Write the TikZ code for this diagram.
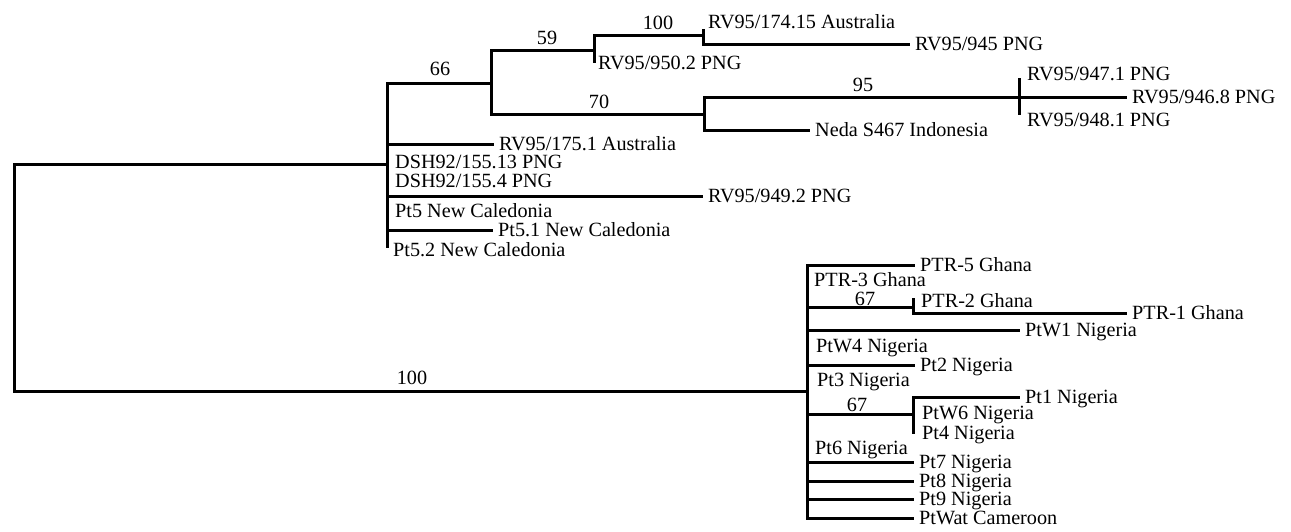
\documentclass[tikz,border=0pt]{standalone}
\usepackage{fontspec}
\setmainfont{Liberation Serif}
\usetikzlibrary{calc}
\tikzset{tree branch/.style={line width=3pt},
  taxon/.style={anchor=west, inner xsep=5pt, inner ysep=0pt,
    text height=14.5pt, text depth=2.5pt,
    font=\fontsize{20.2}{24}\selectfont},
  support/.style={anchor=center, inner sep=0pt,
    text height=14pt, text depth=0pt,
    font=\fontsize{20.2}{24}\selectfont}
}

\begin{document}
\begin{tikzpicture}[x=1pt,y=-1pt]
    \useasboundingbox (0,0) rectangle (1291,531);
    \coordinate (root) at (14,277);
    \coordinate (mel) at (387,164);
    \coordinate (melend) at (387,248);
    \coordinate (n66) at (491,83);
    \coordinate (n59) at (594,50);
    \coordinate (n59end) at (594,63);
    \coordinate (n100) at (703,35);
    \coordinate (n100top) at (703,29);
    \coordinate (n70) at (704,114);
    \coordinate (n95) at (1019,97.5);
    \coordinate (n95top) at (1019,78);
    \coordinate (n95end) at (1019,115);
    \coordinate (afr) at (807,391);
    \coordinate (ghana67) at (913,307);
    \coordinate (ghana67top) at (913,298);
    \coordinate (nig67) at (913,414);
    \coordinate (nig67end) at (913,434);

    \node[taxon] (rv17415) at (703,22) {RV95/174.15 Australia};
    \node[taxon] (rv945) at (910,44) {RV95/945 PNG};
    \node[taxon] (rv9502) at (593,63) {RV95/950.2 PNG};
    \node[taxon] (rv9471) at (1022,74) {RV95/947.1 PNG};
    \node[taxon] (rv9468) at (1127,97.5) {RV95/946.8 PNG};
    \node[taxon] (rv9481) at (1022,120) {RV95/948.1 PNG};
    \node[taxon] (neda) at (810,130) {Neda S467 Indonesia};
    \node[taxon] (rv1751) at (494,144) {RV95/175.1 Australia};
    \node[taxon] (dsh13) at (390,162) {DSH92/155.13 PNG};
    \node[taxon] (dsh4) at (390,181) {DSH92/155.4 PNG};
    \node[taxon] (rv9492) at (703,196) {RV95/949.2 PNG};
    \node[taxon] (pt5) at (390,211) {Pt5 New Caledonia};
    \node[taxon] (pt51) at (493,230) {Pt5.1 New Caledonia};
    \node[taxon] (pt52) at (388,250) {Pt5.2 New Caledonia};

    \node[taxon] (ptr5) at (915,265) {PTR-5 Ghana};
    \node[taxon] (ptr3) at (809,280) {PTR-3 Ghana};
    \node[taxon] (ptr2) at (916,301) {PTR-2 Ghana};
    \node[taxon] (ptr1) at (1127,313) {PTR-1 Ghana};
    \node[taxon] (ptw1) at (1020,330) {PtW1 Nigeria};
    \node[taxon] (ptw4) at (811,346) {PtW4 Nigeria};
    \node[taxon] (pt2) at (915,365) {Pt2 Nigeria};
    \node[taxon] (pt3) at (812,380) {Pt3 Nigeria};
    \node[taxon] (pt1) at (1020,397) {Pt1 Nigeria};
    \node[taxon] (ptw6) at (917,413) {PtW6 Nigeria};
    \node[taxon] (pt4) at (917,433) {Pt4 Nigeria};
    \node[taxon] (pt6) at (810,448) {Pt6 Nigeria};
    \node[taxon] (pt7) at (914,462.5) {Pt7 Nigeria};
    \node[taxon] (pt8) at (914,481) {Pt8 Nigeria};
    \node[taxon] (pt9) at (914,499.5) {Pt9 Nigeria};
    \node[taxon] (ptwat) at (914,518) {PtWat Cameroon};

    \node[support] (b66) at (440,68) {66};
    \node[support] (b59) at (547,37) {59};
    \node[support] (b100a) at (658,22) {100};
    \node[support] (b70) at (599,101) {70};
    \node[support] (b95) at (863,84) {95};
    \node[support] (b100b) at (412,377) {100};
    \node[support] (b67a) at (865,298) {67};
    \node[support] (b67b) at (857,404) {67};

    \draw[tree branch] (root) |- (mel);
    \draw[tree branch] (root) |- (afr);
    \draw[tree branch] (mel) |- (n66);
    \draw[tree branch] (mel) |- (rv1751.west);
    \draw[tree branch] (mel) |- (rv9492.west);
    \draw[tree branch] (mel) |- (pt51.west);
    \draw[tree branch] (mel) -- (melend);
    \draw[tree branch] (n66) |- (n59);
    \draw[tree branch] (n66) |- (n70);
    \draw[tree branch] (n59) |- (n100);
    \draw[tree branch] (n59) -- (n59end);
    \draw[tree branch] (n100) |- (rv945.west);
    \draw[tree branch] (n100) -- (n100top);
    \draw[tree branch] (n70) |- (n95);
    \draw[tree branch] (n70) |- (neda.west);
    \draw[tree branch] (n95) -- (rv9468.west);
    \draw[tree branch] (n95top) -- (n95end);
    \draw[tree branch] (afr) |- (ptr5.west);
    \draw[tree branch] (afr) |- (ghana67);
    \draw[tree branch] (afr) |- (ptw1.west);
    \draw[tree branch] (afr) |- (pt2.west);
    \draw[tree branch] (afr) |- (nig67);
    \draw[tree branch] (afr) |- (pt7.west);
    \draw[tree branch] (afr) |- (pt8.west);
    \draw[tree branch] (afr) |- (pt9.west);
    \draw[tree branch] (afr) |- (ptwat.west);
    \draw[tree branch] (ghana67) |- (ptr1.west);
    \draw[tree branch] (ghana67) -- (ghana67top);
    \draw[tree branch] (nig67) |- (pt1.west);
    \draw[tree branch] (nig67) -- (nig67end);
\end{tikzpicture}
\end{document}
